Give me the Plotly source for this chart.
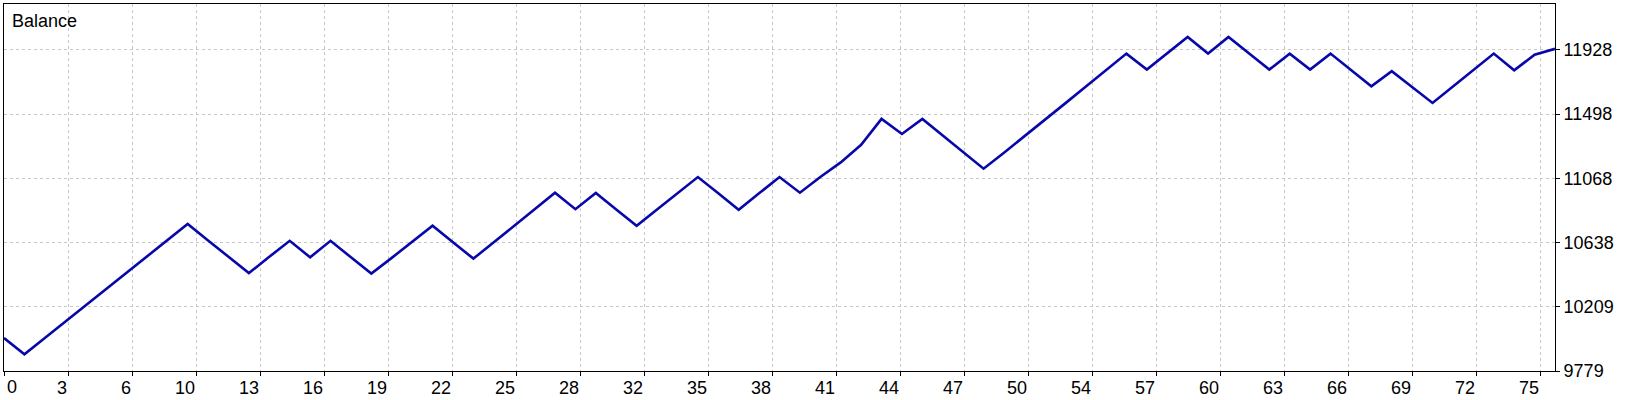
import plotly.graph_objects as go

# balance after each closed trade (trade 0 = initial deposit)
balance = [
    10000, 9891, 10000, 10109, 10218, 10327, 10436, 10545, 10654, 10763,
    10653, 10543, 10434, 10543, 10650, 10540, 10650, 10540, 10431, 10536,
    10643, 10751, 10641, 10531, 10640, 10750, 10860, 10972, 10862, 10970,
    10860, 10751, 10860, 10968, 11077, 10968, 10858, 10968, 11077, 10972,
    11077, 11175, 11293, 11466, 11365, 11466, 11355, 11245, 11133, 11240,
    11348, 11459, 11570, 11681, 11792, 11903, 11796, 11905, 12014, 11903,
    12014, 11905, 11796, 11903, 11796, 11903, 11793, 11684, 11785, 11679,
    11573, 11683, 11793, 11903, 11791, 11896, 11935,
]
trades = list(range(len(balance)))

x_labels = ["0", "3", "6", "10", "13", "16", "19", "22", "25", "28", "32", "35",
            "38", "41", "44", "47", "50", "54", "57", "60", "63", "66", "69", "72", "75"]
y_ticks = [9779, 10209, 10638, 11068, 11498, 11928]

Y_MIN, Y_MAX = 9779, 12235
X_GRID_STEP = 3.1362  # trades between two vertical grid lines
x_tickvals = [i * X_GRID_STEP for i in range(len(x_labels))]

FONT = "Liberation Sans"
LINE_BLUE = "#0808AA"
GRID_GREY = "#C8C8C8"

fig = go.Figure()

fig.add_trace(go.Scatter(
    x=trades, y=balance,
    mode="lines",
    line=dict(color=LINE_BLUE, width=2.6),
    name="Balance",
    showlegend=False,
))

fig.update_layout(
    width=1640, height=400,
    margin=dict(l=4, r=85, t=4, b=29),
    paper_bgcolor="white",
    plot_bgcolor="white",
    font=dict(family=FONT, size=18, color="black"),
    showlegend=False,
)

fig.update_xaxes(
    range=[0, len(balance) - 1],
    tickmode="array",
    tickvals=x_tickvals,
    ticktext=[""] + x_labels[1:],
    ticklabelposition="outside left",
    ticks="outside", ticklen=4, tickcolor="black", tickwidth=1,
    showgrid=True, gridcolor=GRID_GREY, griddash="3px,3px", gridwidth=1,
    showline=True, linecolor="black", linewidth=1, mirror=True,
    zeroline=False, automargin=False,
    tickfont=dict(family=FONT, size=18, color="black"),
)

fig.update_yaxes(
    range=[Y_MIN, Y_MAX],
    side="right",
    tickmode="array",
    tickvals=y_ticks,
    ticktext=[str(v) for v in y_ticks],
    ticks="outside", ticklen=4, tickcolor="black", tickwidth=1,
    showgrid=True, gridcolor=GRID_GREY, griddash="3px,3px", gridwidth=1,
    showline=True, linecolor="black", linewidth=1, mirror=True,
    zeroline=False, automargin=False,
    tickfont=dict(family=FONT, size=18, color="black"),
)

# first x label sits inside the plot edge instead of left of it
fig.add_annotation(
    x=x_tickvals[0], xref="x", y=0, yref="paper",
    text=x_labels[0], showarrow=False,
    xanchor="left", yanchor="middle", xshift=1, yshift=-16,
    font=dict(family=FONT, size=18, color="black"),
)

# chart title in the upper left corner
fig.add_annotation(
    x=0, xref="paper", y=1, yref="paper",
    text="Balance", showarrow=False,
    xanchor="left", yanchor="top", xshift=6, yshift=-5,
    font=dict(family=FONT, size=18, color="black"),
)

# drop the browser's default body margin so the figure fills the window
fig.write_html(
    "out.html",
    config={"displayModeBar": False},
    post_script="document.body.style.margin = '0';",
)
